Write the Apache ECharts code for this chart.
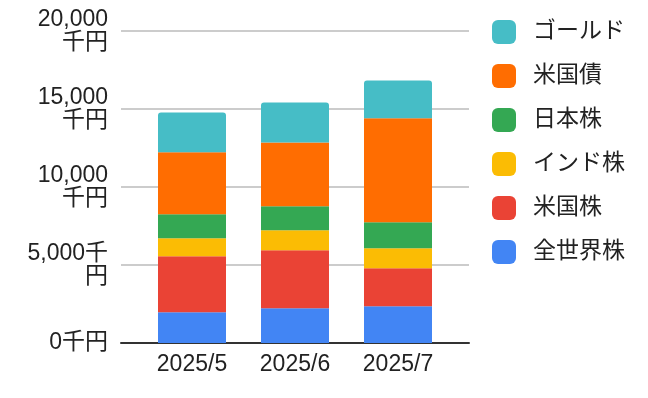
<!DOCTYPE html>
<html>
<head>
<meta charset="utf-8">
<script src="https://cdn.jsdelivr.net/npm/echarts@6/dist/echarts.min.js"></script>
<style>
  html, body { margin: 0; padding: 0; background: #fff; }
  #chart { width: 648px; height: 398px; }
</style>
</head>
<body>
<div id="chart"></div>
<script>
const months = ['2025/5', '2025/6', '2025/7']
const yTickLabels = ['0千円', '5,000千\n円', '10,000\n千円', '15,000\n千円', '20,000\n千円']

// stacked bottom to top
const seriesNames = ['全世界株', '米国株', 'インド株', '日本株', '米国債', 'ゴールド']
const seriesColors = ['#4285f4', '#ea4335', '#fbbc04', '#34a853', '#ff6d01', '#46bdc6']
const zenSekai = [1970, 2220, 2350]
const beiKoku = [3590, 3720, 2440]
const india = [1150, 1280, 1280]
const nihon = [1540, 1540, 1670]
const beiSai = [3970, 4100, 6670]
const gold = [2550, 2550, 2420]
const seriesValues = [zenSekai, beiKoku, india, nihon, beiSai, gold]

const font = "Arial, 'Liberation Sans', 'Noto Sans CJK JP', sans-serif"
const chart = echarts.init(document.getElementById('chart'))

chart.setOption({
  animation: false,
  textStyle: { fontFamily: font },
  grid: [
    { left: 121, right: 179, top: 31, bottom: 55 },
    { left: 140.5, right: 198.5, top: 31, bottom: 55 }
  ],
  legend: {
    orient: 'vertical',
    left: 492,
    top: 20,
    padding: 0,
    itemWidth: 24,
    itemHeight: 24,
    itemGap: 20,
    icon: 'roundRect',
    data: seriesNames.slice().reverse(),
    textStyle: { fontSize: 23, color: '#222', padding: [0, 0, 0, 12], fontFamily: font }
  },
  xAxis: [
    {
      gridIndex: 0,
      type: 'category',
      data: [''],
      axisLine: { lineStyle: { color: '#333', width: 2 } },
      axisTick: { show: false },
      axisLabel: { show: false }
    },
    {
      gridIndex: 1,
      type: 'category',
      data: months,
      axisLine: { show: false },
      axisTick: { show: false },
      axisLabel: { fontSize: 23, color: '#222', margin: 10, fontFamily: font }
    }
  ],
  yAxis: [
    {
      gridIndex: 0,
      type: 'value',
      min: 0,
      max: 20000,
      interval: 5000,
      axisLine: { show: false },
      axisTick: { show: false },
      splitLine: { lineStyle: { color: '#cccccc', width: 2 } },
      axisLabel: {
        fontSize: 23,
        color: '#222',
        margin: 13,
        lineHeight: 23,
        align: 'right',
        fontFamily: font,
        formatter: (v) => yTickLabels[Math.round(v / 5000)]
      }
    },
    {
      gridIndex: 1,
      type: 'value',
      min: 0,
      max: 20000,
      show: false
    }
  ],
  series: seriesNames.map((name, i) => ({
    name,
    type: 'bar',
    stack: 'total',
    xAxisIndex: 1,
    yAxisIndex: 1,
    barWidth: 68,
    data: seriesValues[i],
    itemStyle: {
      color: seriesColors[i],
      borderRadius: i === seriesNames.length - 1 ? [3, 3, 0, 0] : 0
    }
  }))
})
</script>
</body>
</html>
